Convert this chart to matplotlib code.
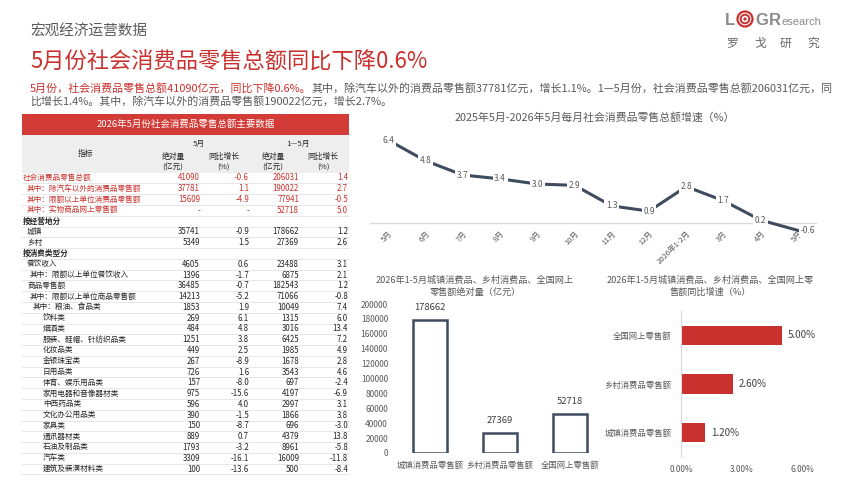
import matplotlib
matplotlib.use('Agg')
import matplotlib.pyplot as plt
from matplotlib.patches import Rectangle, Circle

plt.rcParams['font.family'] = ['Noto Sans CJK SC', 'DejaVu Sans']
plt.rcParams['axes.unicode_minus'] = False

W, H = 858, 480
RED = '#c8312d'
HEAD_RED = '#d23b36'
GREY = '#595959'
TXT = '#262626'
DARK = '#3e4c5e'
LIGHT = '#d9d9d9'

# ---- data ----
months = ['5月', '6月', '7月', '8月', '9月', '10月', '11月', '12月',
          '2026年1-2月', '3月', '4月', '5月']
growth = [6.4, 4.8, 3.7, 3.4, 3.0, 2.9, 1.3, 0.9, 2.8, 1.7, 0.2, -0.6]

areas = ['城镇消费品零售额', '乡村消费品零售额', '全国网上零售额']
area_abs = [178662, 27369, 52718]
area_yoy = [1.2, 2.6, 5.0]

row_names = ['社会消费品零售总额', '其中：除汽车以外的消费品零售额', '其中：限额以上单位消费品零售额',
             '其中：实物商品网上零售额', '按经营地分', '城镇', '乡村', '按消费类型分', '餐饮收入',
             '其中：限额以上单位餐饮收入', '商品零售额', '其中：限额以上单位商品零售额',
             '其中：粮油、食品类', '饮料类', '烟酒类', '服装、鞋帽、针纺织品类', '化妆品类',
             '金银珠宝类', '日用品类', '体育、娱乐用品类', '家用电器和音像器材类', '中西药品类',
             '文化办公用品类', '家具类', '通讯器材类', '石油及制品类', '汽车类', '建筑及装潢材料类']
may_abs = ['41090', '37781', '15609', '-', '', '35741', '5349', '', '4605', '1396', '36485',
           '14213', '1853', '269', '484', '1251', '449', '267', '726', '157', '975', '596',
           '390', '150', '889', '1793', '3309', '100']
may_yoy = ['-0.6', '1.1', '-4.9', '-', '', '-0.9', '1.5', '', '0.6', '-1.7', '-0.7', '-5.2',
           '1.9', '6.1', '4.8', '3.8', '2.5', '-8.9', '1.6', '-8.0', '-15.6', '4.0', '-1.5',
           '-8.7', '0.7', '-3.2', '-16.1', '-13.6']
ytd_abs = ['206031', '190022', '77941', '52718', '', '178662', '27369', '', '23488', '6875',
           '182543', '71066', '10049', '1315', '3016', '6425', '1985', '1678', '3543', '697',
           '4197', '2997', '1866', '696', '4379', '8961', '16009', '500']
ytd_yoy = ['1.4', '2.7', '-0.5', '5.0', '', '1.2', '2.6', '', '3.1', '2.1', '1.2', '-0.8',
           '7.4', '6.0', '13.4', '7.2', '4.9', '2.8', '4.6', '-2.4', '-6.9', '3.1', '3.8',
           '-3.0', '13.8', '-5.8', '-11.8', '-8.4']
row_indent = [23, 27, 27, 27, 23, 27, 27, 23, 27, 30, 27, 30, 33] + [43] * 15


def box(x0, y0, x1, y1):
    return [x0 / W, 1 - y1 / H, (x1 - x0) / W, (y1 - y0) / H]


fig = plt.figure(figsize=(W / 100, H / 100), dpi=100)
bg = fig.add_axes([0, 0, 1, 1])
bg.set_xlim(0, W)
bg.set_ylim(H, 0)
bg.axis('off')

# ---- page header ----
bg.text(30, 32, '宏观经济运营数据', fontsize=10.5, color=GREY, va='center')
bg.text(30, 62, '5月份社会消费品零售总额同比下降0.6%', fontsize=16, color=RED, va='center')

red_part = '5月份，社会消费品零售总额41090亿元，同比下降0.6%。'
grey_part = '其中，除汽车以外的消费品零售额37781亿元，增长1.1%。1—5月份，社会消费品零售总额206031亿元，同'
t1 = bg.text(30, 88, red_part, fontsize=7.9, color=RED, va='center')
fig.canvas.draw()
w1 = t1.get_window_extent(fig.canvas.get_renderer()).width
bg.text(30 + w1, 88, grey_part, fontsize=7.9, color=GREY, va='center')
bg.text(30, 101, '比增长1.4%。其中，除汽车以外的消费品零售额190022亿元，增长2.7%。',
        fontsize=7.9, color=GREY, va='center')

# logo
logo_grey = '#8c8c8c'
logo_font = dict(fontweight='bold', color=logo_grey, va='baseline', family='Liberation Sans')
bg.text(725, 25, 'L', fontsize=12, **logo_font)
for r, lw in [(7.5, 1.6), (4.3, 1.4)]:
    bg.add_patch(Circle((745, 19), r, fc='none', ec=RED, lw=lw))
bg.add_patch(Circle((745, 19), 1.6, fc=RED, ec='none'))
bg.text(755, 25, 'G', fontsize=12, **logo_font)
bg.text(769, 25, 'R', fontsize=12, **logo_font)
bg.text(781, 25, 'esearch', fontsize=8, color=logo_grey, va='baseline', family='Liberation Sans')
for cx, ch in zip([732, 760, 786, 813], '罗戈研究'):
    bg.text(cx, 43, ch, fontsize=8.5, color='#666666', ha='center', va='center')

# ---- table ----
bg.add_patch(Rectangle((22, 114), 327, 21, fc=HEAD_RED, ec='none'))
bg.text(186, 124.5, '2026年5月份社会消费品零售总额主要数据', fontsize=6.8, color='white',
        ha='center', va='center')
bg.add_patch(Rectangle((22, 135), 327, 38, fc='#eeeeee', ec='none'))
hs = dict(fontsize=5.6, color=TXT, ha='center', va='center')
bg.text(85, 154, '指标', **hs)
bg.text(199, 144, '5月', **hs)
bg.text(298, 144, '1—5月', **hs)
for cx in [173, 273]:
    bg.text(cx, 157, '绝对量', **hs)
    bg.text(cx, 168, '(亿元)', **hs)
for cx in [224, 323]:
    bg.text(cx, 157, '同比增长', **hs)
    bg.text(cx, 168, '(%)', **hs)

row_h = 10.78
for i, name in enumerate(row_names):
    yc = 178 + i * row_h
    color = RED if i < 4 else TXT
    weight = 'bold' if name.startswith('按') else 'normal'
    bg.text(row_indent[i], yc, name, fontsize=5.5, color=color, fontweight=weight, va='center')
    for xr, col in zip([200, 249, 299, 348], [may_abs, may_yoy, ytd_abs, ytd_yoy]):
        if col[i]:
            bg.text(xr, yc, col[i], fontsize=5.7, color=color, ha='right', va='center')
    bg.plot([22, 349], [yc + row_h / 2, yc + row_h / 2], color='#e3e3e3', lw=0.6)

# ---- line chart ----
bg.text(595, 117, '2025年5月-2026年5月每月社会消费品零售总额增速（%）', fontsize=7.8,
        color=GREY, ha='center', va='center')
ax1 = fig.add_axes(box(369.7, 130, 816.7, 228))
xs = range(len(months))
ax1.plot(xs, growth, color=DARK, lw=2.2, clip_on=False, zorder=2)
ax1.axhline(0, color=LIGHT, lw=1, zorder=1)
ax1.set_xlim(-0.5, len(months) - 0.5)
ax1.set_ylim(-0.41, 7.19)
for i, v in enumerate(growth):
    dx = 0.27 if i == len(growth) - 1 else 0
    ax1.text(i + dx, v, f'{v:.1f}', fontsize=6, color=GREY, ha='center', va='center', zorder=3,
             bbox=dict(boxstyle='square,pad=0.2', fc='white', ec='none'))
ax1.set_xticks(list(xs), months, rotation=45, ha='right', rotation_mode='anchor',
               fontsize=5.5, color=GREY)
ax1.tick_params(axis='x', length=0, pad=1)
ax1.set_yticks([])
for s in ax1.spines.values():
    s.set_visible(False)
ax1.patch.set_alpha(0)

# ---- absolute bar chart ----
bg.text(475, 280, '2026年1-5月城镇消费品、乡村消费品、全国网上', fontsize=6.6, color=GREY,
        ha='center', va='center')
bg.text(475, 292, '零售额绝对量（亿元）', fontsize=6.6, color=GREY, ha='center', va='center')
ax2 = fig.add_axes(box(395, 304, 605, 453))
ax2.bar(range(len(areas)), area_abs, width=0.48, color='white', edgecolor=DARK, lw=1.8)
for i, v in enumerate(area_abs):
    ax2.annotate(str(v), (i, v), xytext=(0, 9), textcoords='offset points', ha='center',
                 va='center', fontsize=6.8, color='#404040')
ax2.set_xlim(-0.5, 2.5)
ax2.set_ylim(0, 200000)
ax2.set_yticks(range(0, 200001, 20000))
ax2.set_xticks(range(len(areas)), areas)
ax2.tick_params(length=0, labelsize=6, labelcolor=GREY)
ax2.tick_params(axis='y', pad=5)
ax2.tick_params(axis='x', pad=6)
for s in ax2.spines.values():
    s.set_visible(False)

# ---- growth bar chart ----
bg.text(710, 280, '2026年1-5月城镇消费品、乡村消费品、全国网上零', fontsize=6.6, color=GREY,
        ha='center', va='center')
bg.text(710, 292, '售额同比增速（%）', fontsize=6.6, color=GREY, ha='center', va='center')
ax3 = fig.add_axes(box(681, 311, 802, 457))
ax3.barh(range(len(areas)), area_yoy, height=0.4, color=RED)
for i, v in enumerate(area_yoy):
    ax3.annotate(f'{v:.2f}%', (v, i), xytext=(4, 0), textcoords='offset points', ha='left',
                 va='center', fontsize=7, color='#404040')
ax3.set_xlim(0, 6)
ax3.set_ylim(-0.5, 2.5)
ax3.set_xticks([0, 3, 6], ['0.00%', '3.00%', '6.00%'])
ax3.set_yticks(range(len(areas)), areas)
ax3.tick_params(length=0, labelsize=6, labelcolor=GREY)
ax3.tick_params(axis='y', pad=7)
ax3.tick_params(axis='x', pad=6)
for k, s in ax3.spines.items():
    s.set_visible(k == 'left')
ax3.spines['left'].set_color(LIGHT)

fig.savefig('out.png', dpi=100)
